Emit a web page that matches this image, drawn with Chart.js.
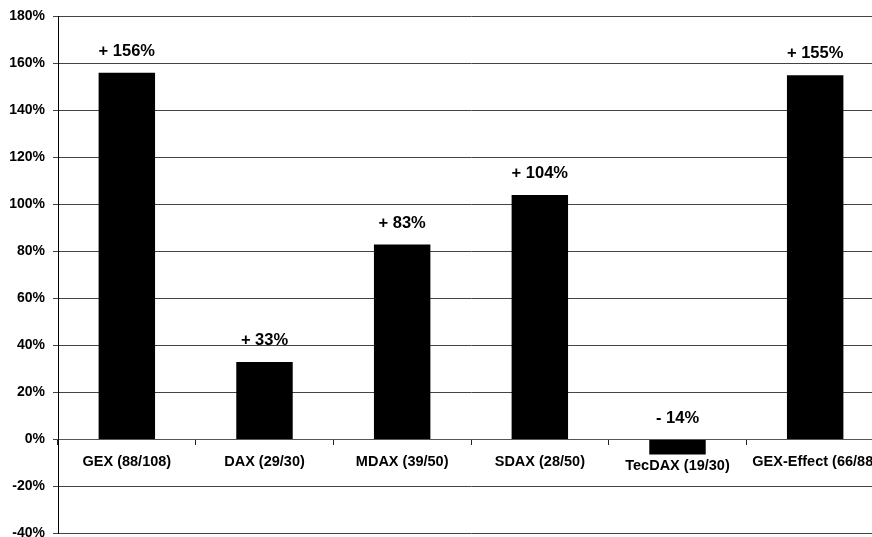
<!DOCTYPE html>
<html>
<head>
<meta charset="utf-8">
<script src="https://cdn.jsdelivr.net/npm/chart.js@4/dist/chart.umd.min.js"></script>
<style>
  html, body { margin: 0; padding: 0; background: #fff; overflow: hidden; width: 872px; height: 537px; }
  canvas { display: block; }
</style>
</head>
<body>
<canvas id="c" width="884" height="550"></canvas>
<script>
const categories = ["GEX (88/108)", "DAX (29/30)", "MDAX (39/50)", "SDAX (28/50)", "TecDAX (19/30)", "GEX-Effect (66/88)"];
const values = [156, 33, 83, 104, -6.4, 155];
const valueLabels = ["+ 156%", "+ 33%", "+ 83%", "+ 104%", "- 14%", "+ 155%"];
const yMin = -40, yMax = 180, yStep = 20;

const FONT = "'Liberation Sans', Arial, sans-serif";

const labelPlugin = {
  id: 'valueLabels',
  afterDatasetsDraw(chart) {
    const ctx = chart.ctx;
    const meta = chart.getDatasetMeta(0);
    const ys = chart.scales.y;
    const zero = ys.getPixelForValue(0);
    ctx.save();
    ctx.fillStyle = "#000";
    ctx.textAlign = "center";
    // value labels above bars
    ctx.font = "bold 16.5px " + FONT;
    ctx.textBaseline = "bottom";
    meta.data.forEach((bar, i) => {
      const top = ys.getPixelForValue(Math.max(values[i], 0));
      ctx.fillText(valueLabels[i], bar.x, top - 13);
    });
    // category labels under the zero line (pushed below negative bars)
    ctx.font = "bold 14.5px " + FONT;
    ctx.textBaseline = "middle";
    meta.data.forEach((bar, i) => {
      const bottom = ys.getPixelForValue(Math.min(values[i], 0));
      const y = Math.max(zero + 22, bottom + 11);
      ctx.fillText(categories[i], bar.x, y);
    });
    ctx.restore();
  }
};

new Chart(document.getElementById('c'), {
  type: 'bar',
  data: {
    labels: categories,
    datasets: [{
      data: values,
      backgroundColor: '#000',
      borderWidth: 0,
      barPercentage: 0.41,
      categoryPercentage: 1
    }]
  },
  options: {
    responsive: false,
    animation: false,
    devicePixelRatio: 1,
    layout: { padding: { top: 16, bottom: 4, left: 0, right: 0 } },
    plugins: { legend: { display: false }, tooltip: { enabled: false } },
    scales: {
      x: {
        position: { y: 0 },
        grid: { offset: true, drawOnChartArea: false, drawTicks: true, tickLength: 5, color: '#222' },
        border: { display: true, color: '#555', width: 1 },
        ticks: { display: false }
      },
      y: {
        min: yMin,
        max: yMax,
        grid: { color: '#444', lineWidth: 1, tickLength: 5 },
        border: { display: true, color: '#000', width: 1 },
        ticks: {
          stepSize: yStep,
          font: { family: FONT, size: 14, weight: 'bold' },
          color: '#000',
          padding: 8,
          callback: v => v + '%'
        },
        afterFit(scale) { scale.width = 58; }
      }
    }
  },
  plugins: [labelPlugin]
});
</script>
</body>
</html>
